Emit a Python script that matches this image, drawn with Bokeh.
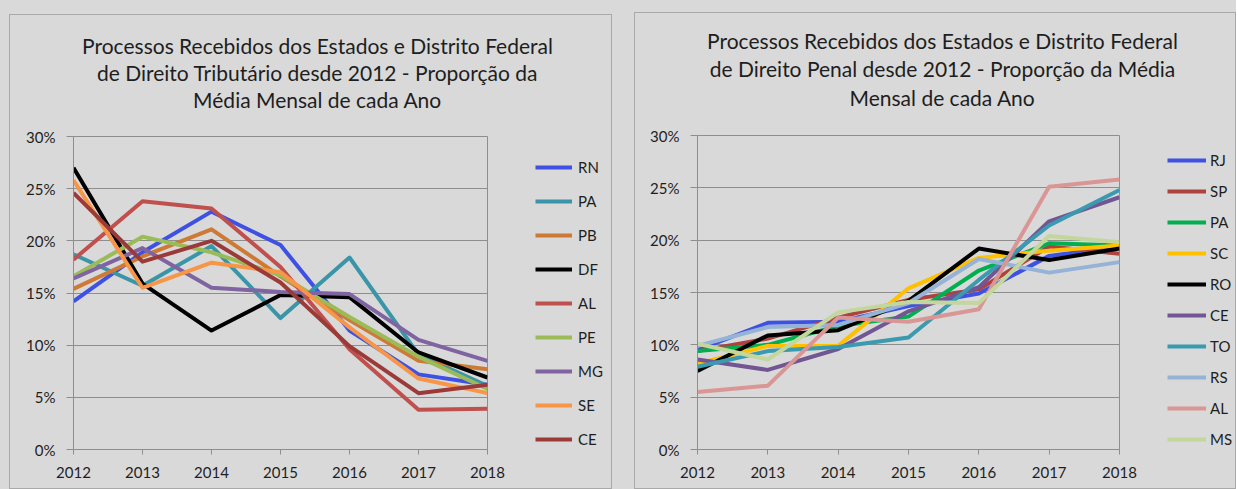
from bokeh.plotting import figure
from bokeh.layouts import row, column
from bokeh.models import (Range1d, FixedTicker, NumeralTickFormatter, Legend,
                          LegendItem, Label)
from bokeh.embed import file_html
from bokeh.resources import INLINE

# ---------------- data ----------------
years = [2012, 2013, 2014, 2015, 2016, 2017, 2018]
y_ticks = [0.0, 0.05, 0.10, 0.15, 0.20, 0.25, 0.30]

# Direito Tributário (proportion, %)
trib_states = ["RN", "PA", "PB", "DF", "AL", "PE", "MG", "SE", "CE"]
trib_RN = [14.2, 18.9, 22.8, 19.6, 11.4, 7.2, 6.2]
trib_PA = [18.7, 15.7, 19.5, 12.6, 18.4, 9.1, 6.1]
trib_PB = [15.4, 18.5, 21.1, 16.6, 12.4, 8.5, 7.7]
trib_DF = [27.0, 15.9, 11.4, 14.8, 14.6, 9.3, 6.9]
trib_AL = [18.2, 23.8, 23.1, 17.5, 9.6, 3.8, 3.9]
trib_PE = [16.6, 20.4, 18.9, 16.7, 12.7, 8.9, 5.8]
trib_MG = [16.4, 19.3, 15.5, 15.1, 14.9, 10.5, 8.5]
trib_SE = [25.8, 15.5, 17.9, 17.0, 11.7, 6.8, 5.4]
trib_CE = [24.6, 18.0, 20.0, 16.0, 9.9, 5.4, 6.2]
trib_colors = ["#3f51e3", "#3b95a8", "#cc7a35", "#000000", "#c0504d",
               "#9bbb59", "#8064a2", "#f79646", "#9b3b39"]

# Direito Penal (proportion, %)
pen_states = ["RJ", "SP", "PA", "SC", "RO", "CE", "TO", "RS", "AL", "MS"]
pen_RJ = [9.5, 12.1, 12.2, 13.7, 14.9, 18.5, 19.4]
pen_SP = [9.4, 10.6, 12.6, 14.3, 15.3, 19.4, 18.7]
pen_PA = [9.4, 10.0, 11.8, 12.7, 17.1, 19.7, 19.5]
pen_SC = [8.2, 9.9, 9.9, 15.4, 18.3, 19.0, 19.5]
pen_RO = [7.5, 10.9, 11.4, 14.2, 19.2, 18.1, 19.2]
pen_CE = [8.6, 7.6, 9.6, 13.2, 15.5, 21.8, 24.1]
pen_TO = [7.9, 9.4, 9.8, 10.7, 16.2, 21.4, 24.8]
pen_RS = [9.9, 11.7, 11.9, 14.0, 18.2, 16.9, 17.9]
pen_AL = [5.5, 6.1, 12.6, 12.2, 13.4, 25.1, 25.8]
pen_MS = [10.1, 8.6, 13.1, 14.1, 14.0, 20.4, 19.8]
pen_colors = ["#3f51e3", "#ad423f", "#00b050", "#ffc000", "#000000",
              "#725694", "#3a9ab0", "#95b3d7", "#d99694", "#c3d69b"]

trib_title = ["Processos Recebidos dos Estados e Distrito Federal",
              "de Direito Tributário desde 2012 - Proporção da",
              "Média Mensal de cada Ano"]
pen_title = ["Processos Recebidos dos Estados e Distrito Federal",
             "de Direito Penal desde 2012 - Proporção da Média",
             "Mensal de cada Ano"]

trib_series = [trib_RN, trib_PA, trib_PB, trib_DF, trib_AL, trib_PE,
               trib_MG, trib_SE, trib_CE]
pen_series = [pen_RJ, pen_SP, pen_PA, pen_SC, pen_RO, pen_CE, pen_TO,
              pen_RS, pen_AL, pen_MS]

# ---------------- styling ----------------
BG = "#d9d9d9"
GRID = "#8e8e8e"
TXT = "#1e1e1e"
FONT = "Lato"
LW = 4


def bare_figure(width, height):
    """A figure with no axes whose frame fills its canvas."""
    f = figure(width=width, height=height,
               x_range=Range1d(0, 1), y_range=Range1d(0, 1),
               x_axis_location=None, y_axis_location=None,
               output_backend="svg", toolbar_location=None,
               min_border=0)
    f.background_fill_color = BG
    f.border_fill_color = BG
    f.outline_line_color = None
    f.grid.visible = False
    return f


def make_panel(title_lines, title_cx, title_ys, title_h,
               states, series, colors,
               plot_w, body_h, mb_left, mb_right, mb_top, mb_bottom,
               leg_w, leg_x, leg_y, leg_spacing, glyph_w, standoff, margin):
    # --- title strip ---
    t = bare_figure(plot_w + leg_w, title_h)
    for line, yy in zip(title_lines, title_ys):
        t.add_layout(Label(x=title_cx, y=yy, x_units="screen",
                           y_units="screen", text=line, text_align="center",
                           text_baseline="middle", text_font=FONT,
                           text_font_size="21px", text_color=TXT))

    # --- chart ---
    p = figure(width=plot_w, height=body_h,
               x_range=Range1d(2012, 2018), y_range=Range1d(0, 0.30),
               output_backend="svg", toolbar_location=None,
               min_border_left=mb_left, min_border_right=mb_right,
               min_border_top=mb_top, min_border_bottom=mb_bottom)
    p.background_fill_color = BG
    p.border_fill_color = BG
    p.outline_line_color = GRID
    p.outline_line_width = 1
    p.xgrid.visible = False
    p.ygrid.grid_line_color = GRID
    p.ygrid.grid_line_width = 1

    p.xaxis.ticker = FixedTicker(ticks=years)
    p.yaxis.ticker = FixedTicker(ticks=y_ticks)
    p.yaxis.formatter = NumeralTickFormatter(format="0%")
    for ax in (p.xaxis[0], p.yaxis[0]):
        ax.axis_line_color = GRID
        ax.major_tick_line_color = GRID
        ax.minor_tick_line_color = None
        ax.major_tick_in = 0
        ax.major_label_text_font = FONT
        ax.major_label_text_font_size = "15px"
        ax.major_label_text_color = TXT
    p.xaxis.major_tick_out = 5
    p.yaxis.major_tick_out = 7
    p.xaxis.major_label_standoff = 12
    p.yaxis.major_label_standoff = 11

    for vals, col in zip(series, colors):
        p.line(years, [v / 100.0 for v in vals], line_color=col,
               line_width=LW, line_join="round")

    # --- legend strip (same series; the data lies outside its 0..1 view) ---
    lg = bare_figure(leg_w, body_h)
    items = []
    for name, vals, col in zip(states, series, colors):
        r = lg.line(years, [v / 100.0 for v in vals], line_color=col,
                    line_width=LW)
        items.append(LegendItem(label=name, renderers=[r]))
    legend = Legend(items=items, location=(leg_x, leg_y),
                    glyph_width=glyph_w, glyph_height=20, label_height=20,
                    spacing=leg_spacing, padding=0, margin=0,
                    label_standoff=standoff,
                    label_text_font=FONT, label_text_font_size="15px",
                    label_text_color=TXT,
                    background_fill_alpha=0, border_line_alpha=0)
    lg.add_layout(legend)

    return column(t, row(p, lg), margin=margin,
                  styles={"border": "1px solid #a9a9a9",
                          "background-color": BG})


panel1 = make_panel(trib_title, 307, [77, 50, 23], 107,
                    trib_states, trib_series, trib_colors,
                    plot_w=500, body_h=366,
                    mb_left=63, mb_right=23, mb_top=14, mb_bottom=39,
                    leg_w=101, leg_x=25, leg_y=0, leg_spacing=14,
                    glyph_w=37, standoff=6, margin=(14, 0, 0, 9))
panel2 = make_panel(pen_title, 307, [82, 54, 25], 109,
                    pen_states, pen_series, pen_colors,
                    plot_w=504, body_h=366,
                    mb_left=62, mb_right=20, mb_top=13, mb_bottom=39,
                    leg_w=96, leg_x=28, leg_y=0, leg_spacing=11,
                    glyph_w=39, standoff=4, margin=(12, 0, 0, 22))

layout = row(panel1, panel2, styles={"background-color": BG})

open("out.html", "w").write(file_html(layout, INLINE))
